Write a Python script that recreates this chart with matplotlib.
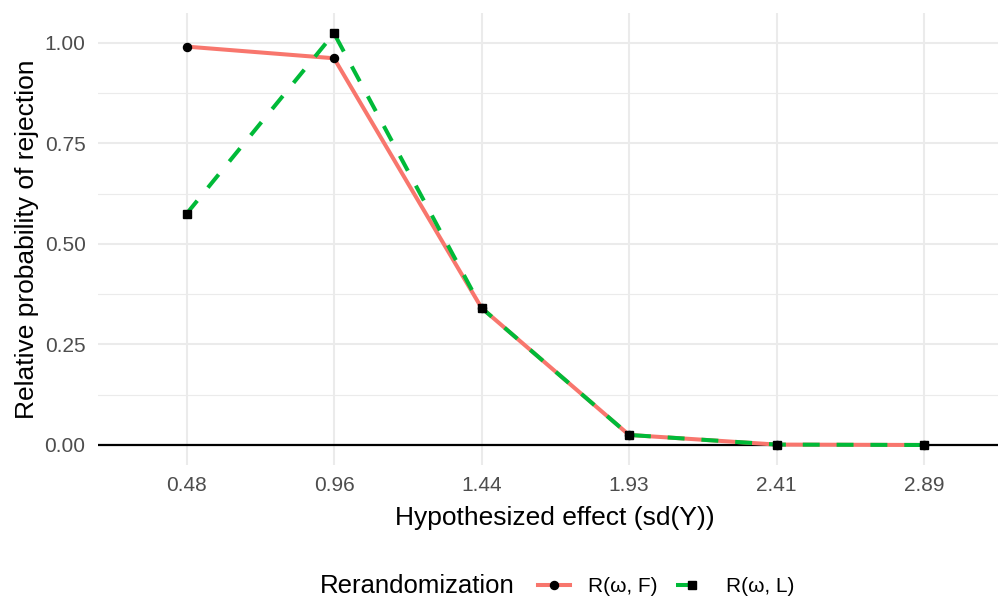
import numpy as np
import matplotlib.pyplot as plt
from matplotlib.lines import Line2D

# ── 資料 ──────────────────────────────────────────────────────────────
effects = ['0.48', '0.96', '1.44', '1.93', '2.41', '2.89']
rel_F = [0.991, 0.962, 0.341, 0.025, 0.001, 0.000]
rel_L = [0.575, 1.024, 0.341, 0.025, 0.001, 0.000]
series_names = ['R(ω, F)', 'R(ω, L)']

RED = '#F8766D'
GREEN = '#00BA38'
GRID = '#EBEBEB'

plt.rcParams['font.family'] = ['Liberation Sans', 'DejaVu Sans']

fig = plt.figure(figsize=(9.98, 5.99), dpi=100)
ax = fig.add_axes([0.0982, 0.2237, 0.9164, 0.7546])

x = np.arange(len(effects))

# 線先畫，點後畫（跟 ggplot 的圖層順序一樣）
ax.axhline(0, color='black', lw=1.6, zorder=2)
ax.plot(x, rel_F, color=RED, lw=2.9, solid_capstyle='butt', zorder=3)
ax.plot(x, rel_L, color=GREEN, lw=2.9, dashes=(4.2, 4.2), zorder=3)
ax.plot(x, rel_F, 'o', color='black', ms=5.8, zorder=4)
ax.plot(x, rel_L, 's', color='black', ms=6.2, zorder=4)

ax.set_xlim(-0.6, len(effects) - 1 + 0.6)
ax.set_ylim(-0.0498, 1.0746)
ax.set_xticks(x)
ax.set_xticklabels(effects)
ax.set_yticks([0, 0.25, 0.5, 0.75, 1.0])
ax.set_yticklabels(['0.00', '0.25', '0.50', '0.75', '1.00'])
ax.set_yticks([0.125, 0.375, 0.625, 0.875], minor=True)

ax.grid(True, which='major', color=GRID, lw=1.5)
ax.grid(True, which='minor', axis='y', color=GRID, lw=0.8)
ax.set_axisbelow(True)
for s in ax.spines.values():
    s.set_visible(False)
ax.tick_params(which='both', length=0, labelsize=15, labelcolor='#4D4D4D')
ax.tick_params(axis='x', pad=8)
ax.tick_params(axis='y', pad=9)

ax.set_xlabel('Hypothesized effect (sd(Y))', fontsize=19, labelpad=8)
ax.set_ylabel('Relative probability of rejection', fontsize=19, labelpad=4)

# ── 圖例（標題放左邊）──────────────────────────────────────────────────
handles = [
    Line2D([], [], color=RED, lw=2.9, marker='o', mfc='black', mec='black', ms=5.8),
    Line2D([], [], color=GREEN, lw=2.9, dashes=(4.2, 4.2), marker='s',
           mfc='black', mec='black', ms=6.2),
]
fig.text(0.516, 0.021, 'Rerandomization', fontsize=18.5, ha='right', va='center')
fig.legend(handles, series_names, loc='center left', bbox_to_anchor=(0.520, 0.021),
           ncol=2, frameon=False, fontsize=15, handlelength=1.55,
           handletextpad=0.87, columnspacing=0.87)

plt.savefig('out.png', dpi=100)
